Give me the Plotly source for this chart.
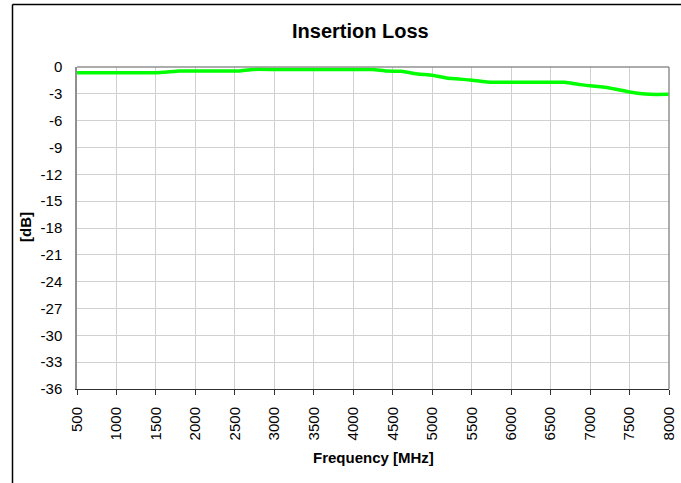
import plotly.graph_objects as go

freq_mhz = [500, 1000, 1500, 1600, 1800, 2000, 2500, 2560, 2730, 3000, 3500, 4000, 4250,
            4420, 4610, 4820, 5000, 5180, 5480, 5750, 6000, 6500, 6680, 6870, 7230, 7480, 7760, 8000]
loss_db = [-0.63, -0.63, -0.63, -0.60, -0.45, -0.45, -0.45, -0.45, -0.27, -0.27, -0.27, -0.27, -0.28,
           -0.45, -0.48, -0.78, -0.92, -1.23, -1.45, -1.71, -1.71, -1.71, -1.71, -1.97, -2.31, -2.76, -3.06, -3.06]

x_ticks = list(range(500, 8001, 500))
y_ticks = list(range(0, -37, -3))

W, H = 681, 483
L, R, T, B = 77, 12, 67, 94
pw, ph = W - L - R, H - T - B

FONT = "Liberation Sans, Arial, sans-serif"

fig = go.Figure()
fig.add_trace(go.Scatter(x=freq_mhz, y=loss_db, mode="lines",
                         line=dict(color="#00ff00", width=3.5, shape="spline", smoothing=0.3),
                         showlegend=False, hoverinfo="skip"))

tick_font = dict(family=FONT, size=15, color="black")
fig.update_layout(
    width=W, height=H, autosize=False,
    margin=dict(l=L, r=R, t=T, b=B, pad=0, autoexpand=False),
    paper_bgcolor="white", plot_bgcolor="white",
    xaxis=dict(range=[500, 8000], tickvals=x_ticks, ticktext=[str(v) for v in x_ticks],
               tickangle=-90, tickfont=tick_font, automargin=False,
               showgrid=True, gridcolor="#d0d0d0", gridwidth=1,
               showline=True, linecolor="#303030", linewidth=1, mirror=False,
               ticks="outside", ticklen=5, tickcolor="#303030",
               ticklabelstandoff=6, zeroline=False),
    yaxis=dict(range=[-36, 0], tickvals=y_ticks, ticktext=[str(v) for v in y_ticks],
               tickfont=tick_font, automargin=False,
               showgrid=True, gridcolor="#d0d0d0", gridwidth=1,
               showline=True, linecolor="#909090", linewidth=1.5, mirror=False,
               ticks="", ticklabelstandoff=10, zeroline=False),
)

# titles positioned by pixel
fig.add_annotation(text="<b>Insertion Loss</b>", xref="paper", yref="paper",
                   x=(360 - L) / pw, y=1 + (T - 31) / ph, xanchor="center", yanchor="middle",
                   showarrow=False, font=dict(family=FONT, size=20, color="black"))
fig.add_annotation(text="<b>Frequency [MHz]</b>", xref="paper", yref="paper",
                   x=(373 - L) / pw, y=-(458 - (H - B)) / ph, xanchor="center", yanchor="middle",
                   showarrow=False, font=dict(family=FONT, size=15, color="black"))
fig.add_annotation(text="<b>[dB]</b>", xref="paper", yref="paper",
                   x=(25 - L) / pw, y=1 - (227 - T) / ph, xanchor="center", yanchor="middle",
                   textangle=-90, showarrow=False, font=dict(family=FONT, size=15, color="black"))

# plot area border (top and right, grey)
fig.add_shape(type="line", xref="paper", yref="paper", x0=0, x1=1, y0=1, y1=1,
              line=dict(color="#909090", width=1.5))
fig.add_shape(type="line", xref="paper", yref="paper", x0=1, x1=1, y0=0, y1=1,
              line=dict(color="#909090", width=1.5))

# outer chart frame (left and top lines)
fx0 = (12.5 - L) / pw
fy1 = 1 + (T - 4.5) / ph
fig.add_shape(type="line", xref="paper", yref="paper", x0=fx0, x1=fx0, y0=fy1, y1=-(B + 5) / ph,
              line=dict(color="black", width=1.5))
fig.add_shape(type="line", xref="paper", yref="paper", x0=fx0, x1=(W + 5 - L) / pw, y0=fy1, y1=fy1,
              line=dict(color="black", width=1.5))

fig.write_html("out.html",
               config={"displayModeBar": False, "responsive": False},
               post_script="document.body.style.margin='0';document.body.style.overflow='hidden';")
